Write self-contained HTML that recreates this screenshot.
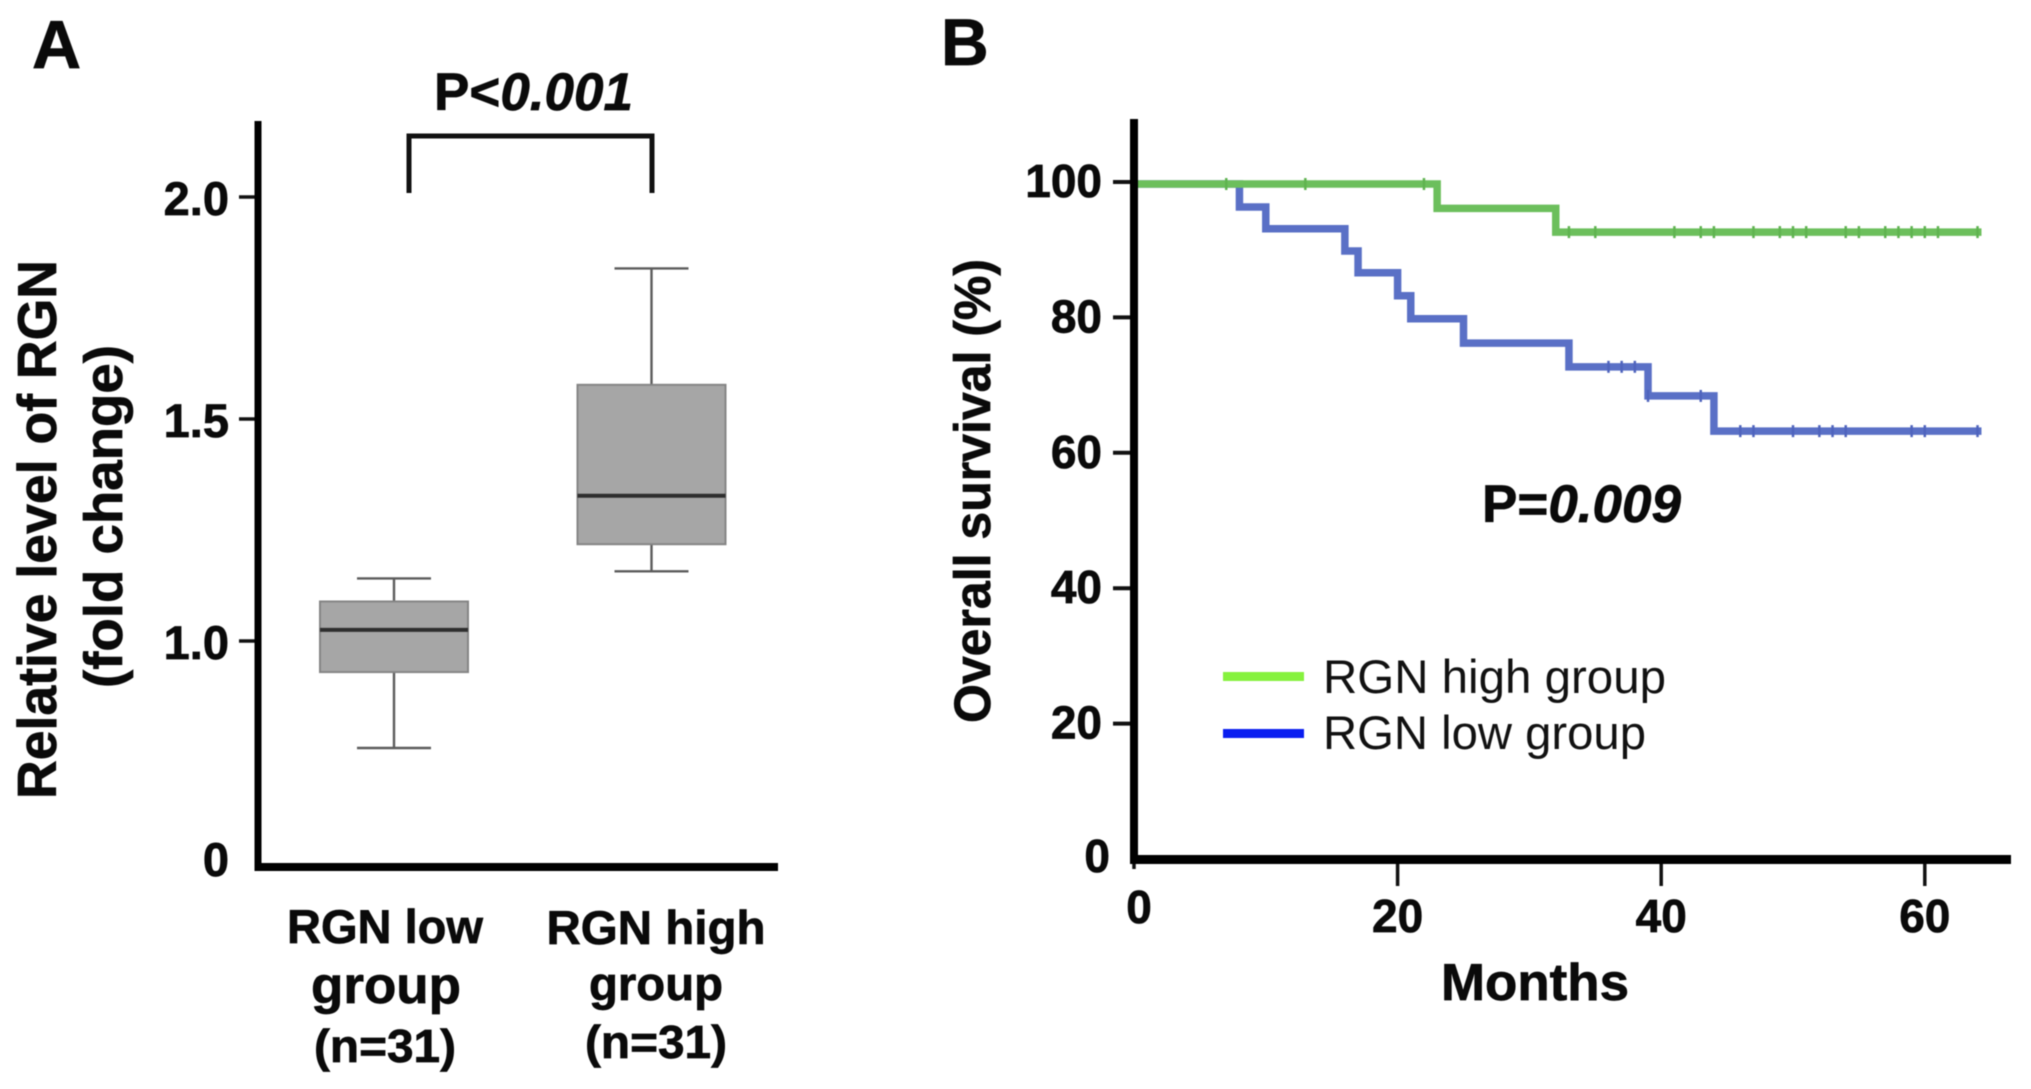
<!DOCTYPE html>
<html lang="en">
<head>
<meta charset="utf-8">
<title>RGN expression and overall survival</title>
<style>
  html, body { margin: 0; padding: 0; background: #fff; }
  #figure { display: block; width: 2031px; height: 1089px; filter: blur(0.6px); font-family: "Liberation Sans", sans-serif; }
  .b { font-weight: 700; fill: #0a0a0a; stroke: #0a0a0a; stroke-width: 0.7px; }
  .r { font-weight: 400; fill: #111; }
</style>
</head>
<body>
<svg id="figure" xmlns="http://www.w3.org/2000/svg" width="2031" height="1089" viewBox="0 0 2031 1089">
  <rect x="0" y="0" width="2031" height="1089" fill="#ffffff"/>

  <g id="panel-a">
    <text class="b" x="32" y="68" font-size="68">A</text>
    <text class="b" x="434" y="110" font-size="53" textLength="199" lengthAdjust="spacingAndGlyphs">P&lt;<tspan font-style="italic">0.001</tspan></text>
    <path d="M409 193V136H652V193" fill="none" stroke="#111" stroke-width="5"/>
    <text class="b" transform="translate(56 799) rotate(-90)" font-size="55" textLength="539" lengthAdjust="spacingAndGlyphs">Relative level of RGN</text>
    <text class="b" transform="translate(122 688) rotate(-90)" font-size="54" textLength="343" lengthAdjust="spacingAndGlyphs">(fold change)</text>
    <g id="a-ticks"></g>
    <g id="a-boxes"></g>
    <rect x="254.5" y="121" width="7" height="750" fill="#000"/>
    <rect x="255" y="863" width="523" height="8" fill="#000"/>
    <g text-anchor="middle">
      <text class="b" x="385" y="943" font-size="47" textLength="196" lengthAdjust="spacingAndGlyphs">RGN low</text>
      <text class="b" x="386" y="1003" font-size="52" textLength="150" lengthAdjust="spacingAndGlyphs">group</text>
      <text class="b" x="385" y="1062" font-size="46" textLength="142" lengthAdjust="spacingAndGlyphs">(n=31)</text>
    </g>
    <g text-anchor="middle">
      <text class="b" x="656" y="944" font-size="47" textLength="219" lengthAdjust="spacingAndGlyphs">RGN high</text>
      <text class="b" x="656" y="1000" font-size="47" textLength="134" lengthAdjust="spacingAndGlyphs">group</text>
      <text class="b" x="656" y="1058" font-size="46" textLength="142" lengthAdjust="spacingAndGlyphs">(n=31)</text>
    </g>
  </g>

  <g id="panel-b">
    <text class="b" x="941" y="65" font-size="66">B</text>
    <text class="b" transform="translate(990 723) rotate(-90)" font-size="51" textLength="464" lengthAdjust="spacingAndGlyphs">Overall survival (%)</text>
    <g id="b-ticks"></g>
    <g id="b-curves"></g>
    <rect x="1130" y="119" width="8" height="744" fill="#000"/>
    <rect x="1130" y="855" width="881" height="9" fill="#000"/>
    <text class="b" x="1441" y="1000" font-size="52" textLength="188" lengthAdjust="spacingAndGlyphs">Months</text>
    <text class="b" x="1482" y="522" font-size="53" textLength="199" lengthAdjust="spacingAndGlyphs">P=<tspan font-style="italic">0.009</tspan></text>
    <g>
      <rect x="1223" y="672" width="81" height="9" fill="#86f23e"/>
      <text class="r" x="1323" y="693" font-size="47" textLength="343" lengthAdjust="spacingAndGlyphs">RGN high group</text>
      <rect x="1223" y="729" width="81" height="9" fill="#0a1ef0"/>
      <text class="r" x="1323" y="749" font-size="47" textLength="323" lengthAdjust="spacingAndGlyphs">RGN low group</text>
    </g>
  </g>
</svg>

<script>
// Panel A data
const boxCategories = ["RGN low group", "RGN high group"];
const whiskerLow = [0.759, 1.157];
const quartile1 = [0.93, 1.218];
const medians = [1.025, 1.327];
const quartile3 = [1.089, 1.577];
const whiskerHigh = [1.141, 1.839];
const aTickValues = [2.0, 1.5, 1.0, 0];
const aTickLabels = ["2.0", "1.5", "1.0", "0"];

// Panel B data
const highMonths = [0, 23, 32, 64.3];
const highSurvival = [99.7, 96.1, 92.6, 92.6];
const lowMonths = [0, 8, 10, 16, 17, 20, 21, 25, 33, 39, 44, 64.3];
const lowSurvival = [99.7, 96.3, 93.1, 89.8, 86.6, 83.2, 79.8, 76.2, 72.7, 68.4, 63.2, 63.2];
const highCensored = [7, 13, 22, 33, 35, 41, 43, 44, 47, 49, 50, 51, 54, 55, 57, 58, 59, 60, 61, 64];
const lowCensored = [36, 37, 38, 39, 43, 46, 47, 50, 52, 53, 54, 59, 60, 64];
const bYTicks = [100, 80, 60, 40, 20, 0];
const bXTicks = [0, 20, 40, 60];

const NS = "http://www.w3.org/2000/svg";
function make(parent, tag, attrs) {
  const el = document.createElementNS(NS, tag);
  for (const k in attrs) el.setAttribute(k, attrs[k]);
  parent.appendChild(el);
  return el;
}

// Axis functions. Panel A has a broken axis: zero sits at the baseline.
function yA(v) { return v <= 0 ? 858 : 641 - (v - 1) * 444; }
function xA(i) { return 394 + i * 257.5; }
function yB(v) { return 859 - v * 6.77; }
function xB(m) { return 1134 + m * 13.18; }

const aTicks = document.getElementById("a-ticks");
aTickValues.forEach(function (v, i) {
  if (v > 0) {
    const tick = make(aTicks, "line", { x1: 239, x2: 258, y1: yA(v), y2: yA(v), stroke: "#111", "stroke-width": 3.5 });
    
    
  }
  const label = make(aTicks, "text", { x: v > 0 ? 229 : 229, y: yA(v) + 18, "text-anchor": "end", "font-size": 47, class: "b" });
  label.textContent = aTickLabels[i];
  
  
});

const aBoxes = document.getElementById("a-boxes");
boxCategories.forEach(function (name, i) {
  const cx = xA(i);
  const whisker = make(aBoxes, "line", { x1: cx, x2: cx, y1: yA(whiskerHigh[i]), y2: yA(whiskerLow[i]), stroke: "#5c5c5c", "stroke-width": 2.4 });
  
  
  [whiskerHigh[i], whiskerLow[i]].forEach(function (v) {
    const cap = make(aBoxes, "line", { x1: cx - 37, x2: cx + 37, y1: yA(v), y2: yA(v), stroke: "#5c5c5c", "stroke-width": 2.4 });
    
    
  });
  const box = make(aBoxes, "rect", { x: cx - 74, width: 148, y: yA(quartile3[i]), height: yA(quartile1[i]) - yA(quartile3[i]), fill: "#a6a6a6", stroke: "#858585", "stroke-width": 2 });
  
  
  const med = make(aBoxes, "line", { x1: cx - 74, x2: cx + 74, y1: yA(medians[i]), y2: yA(medians[i]), stroke: "#2e2e2e", "stroke-width": 4 });
  
  
});

const bTicks = document.getElementById("b-ticks");
bYTicks.forEach(function (v) {
  if (v > 0) {
    const tick = make(bTicks, "line", { x1: 1113, x2: 1134, y1: yB(v), y2: yB(v), stroke: "#111", "stroke-width": 4 });
    
    
  }
  const label = make(bTicks, "text", { x: v > 0 ? 1102 : 1110, y: v > 0 ? yB(v) + 15 : yB(v) + 13, "text-anchor": "end", "font-size": 46, class: "b" });
  label.textContent = String(v);
  
  
});
bXTicks.forEach(function (m) {
  const tick = make(bTicks, "line", { x1: xB(m), x2: xB(m), y1: 859, y2: m > 0 ? 886 : 869, stroke: "#111", "stroke-width": 3.5 });
  
  
  const label = make(bTicks, "text", { x: m > 0 ? xB(m) : xB(m) + 5, y: m > 0 ? 932 : 923, "text-anchor": "middle", "font-size": 46, class: "b" });
  label.textContent = String(m);
  
  
});

function stepPath(months, values) {
  let d = "M" + xB(months[0]) + " " + yB(values[0]);
  for (let i = 1; i < months.length; i++) {
    d += "H" + xB(months[i]) + "V" + yB(values[i]);
  }
  return d;
}
function survivalAt(months, values, m) {
  let v = values[0];
  for (let i = 0; i < months.length; i++) {
    if (months[i] <= m) v = values[i];
  }
  return v;
}

const bCurves = document.getElementById("b-curves");
const lowLine = make(bCurves, "path", { d: stepPath(lowMonths, lowSurvival), fill: "none", stroke: "#5a70c6", "stroke-width": 7.5, "stroke-linejoin": "miter" });


lowCensored.forEach(function (m) {
  const y = yB(survivalAt(lowMonths, lowSurvival, m));
  const mark = make(bCurves, "line", { x1: xB(m), x2: xB(m), y1: y - 6, y2: y + 6, stroke: "#4f64bd", "stroke-width": 2.5 });
  
  
});
const highLine = make(bCurves, "path", { d: stepPath(highMonths, highSurvival), fill: "none", stroke: "#6cbf5c", "stroke-width": 7.5, "stroke-linejoin": "miter" });


highCensored.forEach(function (m) {
  const y = yB(survivalAt(highMonths, highSurvival, m));
  const mark = make(bCurves, "line", { x1: xB(m), x2: xB(m), y1: y - 6, y2: y + 6, stroke: "#5fb350", "stroke-width": 2.5 });
  
  
});
</script>
</body>
</html>
